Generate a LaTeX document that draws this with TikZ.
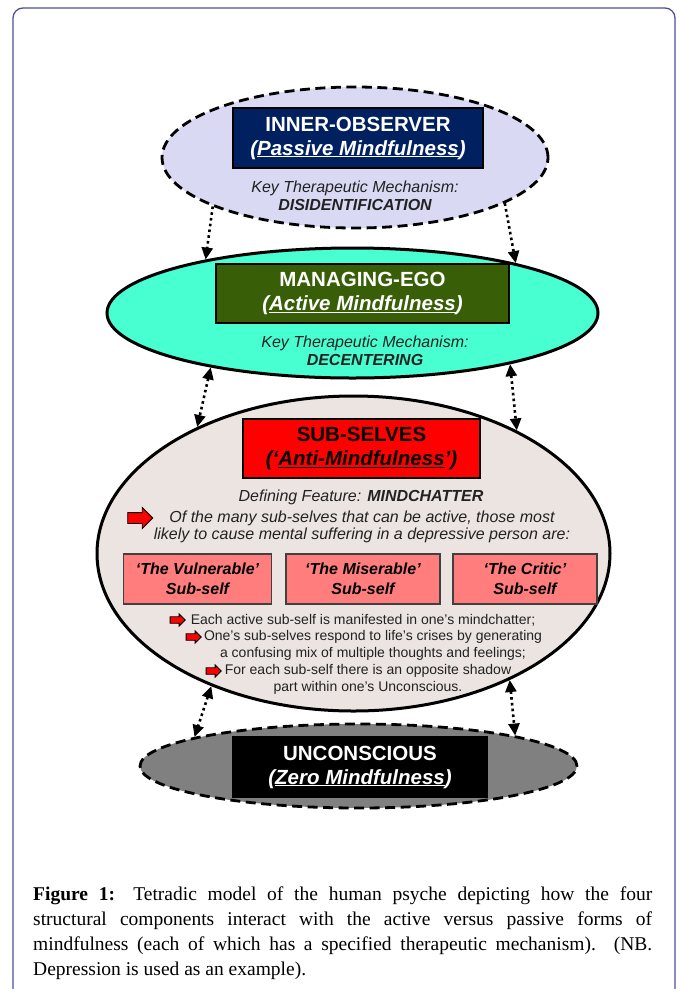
\documentclass[tikz,border=0pt]{standalone}
\usepackage{fontspec}
\setmainfont{Liberation Serif}
\setsansfont{Liberation Sans}
\usetikzlibrary{arrows.meta,shapes.geometric,shapes.arrows}
\definecolor{framecol}{RGB}{80,78,155}
\definecolor{lavender}{RGB}{217,217,244}
\definecolor{navy}{RGB}{0,32,96}
\definecolor{aqua}{RGB}{72,255,210}
\definecolor{olive}{RGB}{56,94,8}
\definecolor{beige}{RGB}{235,228,225}
\definecolor{salmon}{RGB}{255,125,125}
\definecolor{keytxt}{RGB}{34,34,34}
\tikzset{
  frame/.style={draw=framecol, line width=1.3pt, rounded corners=10pt},
  dashring/.style={ellipse, draw, line width=2.8pt, dash pattern=on 10pt off 5.5pt, inner sep=0pt},
  solidring/.style={ellipse, draw, line width=3pt, inner sep=0pt},
  titlebox/.style={draw, line width=1.2pt, inner sep=0pt, align=center,
    font=\sffamily\bfseries\fontsize{20.5}{24}\selectfont},
  keylab/.style={align=center, text=keytxt, font=\sffamily\itshape\fontsize{16}{18}\selectfont},
  bodylab/.style={align=center, text=keytxt, font=\sffamily\itshape\fontsize{16}{17}\selectfont},
  selfbox/.style={draw=black!75, line width=1.5pt, fill=salmon, minimum width=148pt,
    minimum height=50pt, align=center, font=\sffamily\bfseries\itshape\fontsize{16}{20}\selectfont},
  bullab/.style={align=center, text=keytxt, font=\sffamily\fontsize{14}{17}\selectfont},
  redarrow/.style={single arrow, draw, line width=0.9pt, fill=red, inner xsep=0pt},
  bigarrow/.style={redarrow, inner ysep=5pt, single arrow head extend=5pt, minimum height=25pt},
  smallarrow/.style={redarrow, inner ysep=2.8pt, single arrow head extend=2.7pt, minimum height=15pt},
  link/.style={line width=2.6pt, dash pattern=on 2.6pt off 3.2pt},
  tip/.style={-{Triangle[length=12pt,width=11pt]}},
  tips/.style={{Triangle[length=12pt,width=11pt]}-{Triangle[length=12pt,width=11pt]}},
  caption/.style={anchor=north west, text width=619pt, align=justify, inner sep=0pt,
    font=\fontsize{19.5}{25}\selectfont}
}
\begin{document}
\begin{tikzpicture}[x=1pt,y=-1pt]
\useasboundingbox (0,0) rectangle (679,989);
\fill[white] (0,0) rectangle (679,989);
\draw[frame] (13,1005) -- (13,8) -- (675,8) -- (675,1005);

% Inner observer
\node[dashring, fill=lavender, minimum width=386pt, minimum height=141pt] (inner) at (355,157.5) {};
\node[titlebox, fill=navy, text=white, minimum width=250pt, minimum height=60pt] (innertitle) at (358,138)
  {INNER-OBSERVER\\\itshape(\underline{Passive Mindfulness})};
\node[keylab] (innerkey) at (355,196) {Key Therapeutic Mechanism:\\\bfseries DISIDENTIFICATION};

% Managing ego
\node[solidring, fill=aqua, minimum width=491pt, minimum height=130pt] (ego) at (352.5,313) {};
\node[titlebox, fill=olive, text=white, minimum width=293pt, minimum height=59pt] (egotitle) at (362.5,293.5)
  {MANAGING-EGO\\\itshape(\underline{Active Mindfulness})};
\node[keylab] (egokey) at (365,351) {Key Therapeutic Mechanism:\\\bfseries DECENTERING};

% Sub-selves
\node[solidring, fill=beige, minimum width=513pt, minimum height=315pt] (subs) at (353.5,553.5) {};
\node[titlebox, fill=red, text=black, line width=1.8pt, minimum width=237pt, minimum height=59pt] (substitle) at (361.5,448.5)
  {SUB-SELVES\\\itshape(‘\underline{Anti-Mindfulness}’)};
\node[bodylab] (feature) at (361,497) {Defining Feature: \bfseries MINDCHATTER};
\node[bigarrow] (arrowbig) at (137.5,518) {};
\node[bodylab] (manyselves) at (362,526.5) {Of the many sub-selves that can be active, those most\\
  likely to cause mental suffering in a depressive person are:};
\node[selfbox] (vulnerable) at (197.5,579) {‘The Vulnerable’\\Sub-self};
\node[selfbox, minimum width=154pt] (miserable) at (363,579) {‘The Miserable’\\Sub-self};
\node[selfbox, minimum width=144pt] (critic) at (525,579) {‘The Critic’\\Sub-self};
\node[smallarrow] (arrowa) at (176,620) {};
\node[bullab] (bulleta) at (363,620) {Each active sub-self is manifested in one’s mindchatter;};
\node[smallarrow] (arrowb) at (192,637) {};
\node[bullab] (bulletb) at (373,645.5) {One’s sub-selves respond to life’s crises by generating\\
  a confusing mix of multiple thoughts and feelings;};
\node[smallarrow] (arrowc) at (212,671) {};
\node[bullab] (bulletc) at (368,679.5) {For each sub-self there is an opposite shadow\\part within one’s Unconscious.};

% Unconscious
\node[dashring, fill=gray, minimum width=437pt, minimum height=84pt] (uncon) at (358.5,766) {};
\node[titlebox, fill=black, text=white, minimum width=254pt, minimum height=60pt] (uncontitle) at (360,767)
  {UNCONSCIOUS\\\itshape(\underline{Zero Mindfulness})};

% Links
\draw[link, tip] (inner.199) -- (ego.160);
\draw[link, tip] (inner.343) -- (ego.17);
\draw[link, tips] (ego.201) -- (subs.141);
\draw[link, tips] (ego.342) -- (subs.37);
\draw[link, tips] (subs.223) -- (uncon.170);
\draw[link, tips] (subs.321) -- (uncon.11);

% Caption
\node[caption] (cap) at (33,887) {\textbf{Figure 1:} Tetradic model of the human psyche depicting how the four\linebreak
  structural components interact with the active versus passive forms of\linebreak
  mindfulness (each of which has a specified therapeutic mechanism). (NB.\linebreak
  Depression is used as an example).};
\end{tikzpicture}
\end{document}
